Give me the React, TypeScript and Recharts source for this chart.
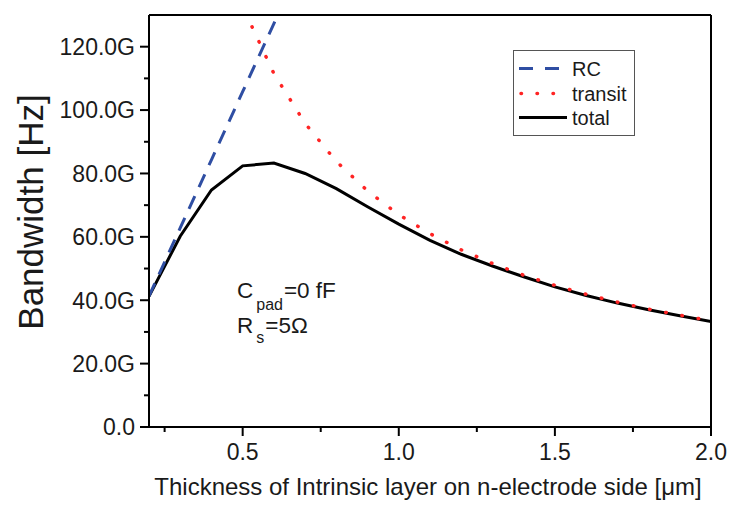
import { LineChart, Line, XAxis, YAxis, Legend, ReferenceLine, Customized } from "recharts";

document.body.style.margin = "0";

// thickness of intrinsic layer [um] and bandwidth [GHz]
const totalThickness = [0.2, 0.3, 0.4, 0.5, 0.6, 0.7, 0.8, 0.9, 1.0, 1.1, 1.2, 1.3, 1.4, 1.5, 1.6, 1.7, 1.8, 1.9, 2.0];
const totalBW = [41.2, 60.2, 74.8, 82.4, 83.3, 80.0, 75.2, 69.5, 64.0, 58.9, 54.5, 50.8, 47.4, 44.2, 41.5, 39.1, 37.0, 35.1, 33.3];

const rcThickness = [0.2, 0.3, 0.4, 0.5, 0.6, 0.7];
const rcBW = [41.3, 62.8, 84.3, 105.8, 127.3, 148.8];

const transitThickness = [0.53, 0.6, 0.7, 0.8, 0.9, 1.0, 1.1, 1.2, 1.3, 1.4, 1.5, 1.6, 1.7, 1.8, 1.9, 2.0];
const transitBW = [126.3, 111.5, 95.8, 83.8, 74.5, 67.0, 61.0, 55.9, 51.6, 47.9, 44.7, 41.9, 39.4, 37.2, 35.3, 33.5];

const xTicks = [0.25, 0.5, 0.75, 1.0, 1.25, 1.5, 1.75, 2.0];
const yTicks = [0, 10, 20, 30, 40, 50, 60, 70, 80, 90, 100, 110, 120];

const FONT = "'Liberation Sans', Arial, sans-serif";
const BLUE = "#2f4ea3";
const RED = "#ff2424";

const toRows = (xs: number[], ys: number[]) => xs.map((x, i) => ({ x, bw: ys[i] }));

function YTick(props: any) {
  const { x, y, payload } = props;
  const v = payload.value as number;
  const major = v % 20 === 0;
  return (
    <g>
      <line x1={x - (major ? 9 : 5)} x2={x} y1={y} y2={y} stroke="#000" strokeWidth={2} />
      {major && (
        <text x={x - 14} y={y} dy="0.36em" textAnchor="end" fontSize={23} fontFamily={FONT} fill="#1a1a1a">
          {v === 0 ? "0.0" : `${v.toFixed(1)}G`}
        </text>
      )}
    </g>
  );
}

function XTick(props: any) {
  const { x, y, payload } = props;
  const v = payload.value as number;
  const major = Math.abs(v * 2 - Math.round(v * 2)) < 1e-6;
  return (
    <g>
      <line x1={x} x2={x} y1={y} y2={y + (major ? 9 : 5)} stroke="#000" strokeWidth={2} />
      {major && (
        <text x={x} y={y + 33} textAnchor="middle" fontSize={23} fontFamily={FONT} fill="#1a1a1a">
          {v.toFixed(1)}
        </text>
      )}
    </g>
  );
}

function LegendBox() {
  return (
    <svg width={122} height={86} style={{ display: "block" }}>
      <rect x={0.5} y={0.5} width={121} height={85} fill="#fff" stroke="#555" strokeWidth={1} />
      <line x1={6} x2={54} y1={18.5} y2={18.5} stroke={BLUE} strokeWidth={3} strokeDasharray="14 12" />
      <text x={59} y={26} fontSize={20} fontFamily={FONT} fill="#1a1a1a">RC</text>
      <line x1={8} x2={54} y1={43.5} y2={43.5} stroke={RED} strokeWidth={3.5} strokeLinecap="round" strokeDasharray="0.5 15.5" />
      <text x={59} y={51} fontSize={20} fontFamily={FONT} fill="#1a1a1a">transit</text>
      <line x1={6} x2={54} y1={67.5} y2={67.5} stroke="#000" strokeWidth={3} />
      <text x={59} y={75} fontSize={20} fontFamily={FONT} fill="#1a1a1a">total</text>
    </svg>
  );
}

function Annotation() {
  return (
    <g fontFamily={FONT} fill="#1a1a1a">
      <text x={237} y={298} fontSize={22.5}>
        C
        <tspan fontSize={16} dx={3} dy={12}>pad</tspan>
        <tspan dx={1} dy={-12}>=0 fF</tspan>
      </text>
      <text x={237} y={333} fontSize={22.5}>
        R
        <tspan fontSize={16} dx={3} dy={10}>s</tspan>
        <tspan dx={1} dy={-10}>=5Ω</tspan>
      </text>
      <text
        x={30}
        y={212}
        transform="rotate(-90 30 212)"
        textAnchor="middle"
        dominantBaseline="central"
        fontSize={35}
      >
        Bandwidth [Hz]
      </text>
      <text x={428} y={495} textAnchor="middle" fontSize={24}>
        Thickness of Intrinsic layer on n-electrode side [μm]
      </text>
    </g>
  );
}

export default function App() {
  return (
    <div style={{ width: 729, height: 506, background: "#fff" }}>
      <LineChart width={729} height={506} margin={{ top: 15, right: 18, left: 0, bottom: 0 }}>
        <XAxis
          type="number"
          dataKey="x"
          domain={[0.2, 2.0]}
          ticks={xTicks}
          allowDataOverflow
          height={79}
          tickSize={0}
          tickMargin={0}
          tickLine={false}
          tick={<XTick />}
          axisLine={{ stroke: "#000", strokeWidth: 2 }}
        />
        <YAxis
          type="number"
          dataKey="bw"
          domain={[0, 130]}
          ticks={yTicks}
          allowDataOverflow
          width={149}
          tickSize={0}
          tickMargin={0}
          tickLine={false}
          tick={<YTick />}
          axisLine={{ stroke: "#000", strokeWidth: 2 }}
        />
        <ReferenceLine y={130} stroke="#000" strokeWidth={2} />
        <ReferenceLine x={2.0} stroke="#000" strokeWidth={2} />
        <Line
          data={toRows(totalThickness, totalBW)}
          dataKey="bw"
          name="total"
          type="linear"
          stroke="#000"
          strokeWidth={3}
          dot={false}
          isAnimationActive={false}
        />
        <Line
          data={toRows(rcThickness, rcBW)}
          dataKey="bw"
          name="RC"
          type="linear"
          stroke={BLUE}
          strokeWidth={3}
          strokeDasharray="14 10"
          dot={false}
          isAnimationActive={false}
        />
        <Line
          data={toRows(transitThickness, transitBW)}
          dataKey="bw"
          name="transit"
          type="linear"
          stroke={RED}
          strokeWidth={3.5}
          strokeLinecap="round"
          strokeDasharray="0.5 16"
          dot={false}
          isAnimationActive={false}
        />
        <Legend
          layout="vertical"
          align="center"
          verticalAlign="middle"
          content={<LegendBox />}
          wrapperStyle={{ left: 513, top: 50, width: 122, height: 86 }}
        />
        <Customized component={<Annotation />} />
      </LineChart>
    </div>
  );
}
